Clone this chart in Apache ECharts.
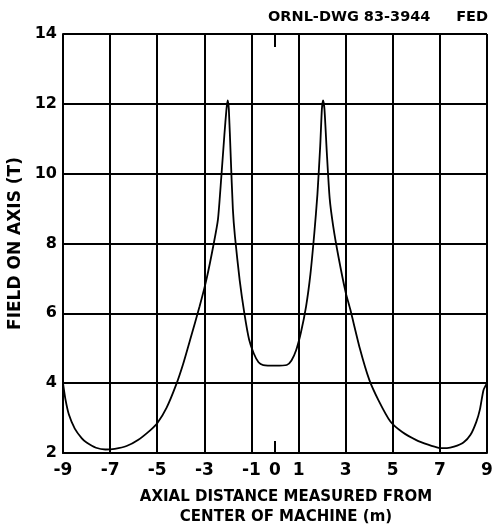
<!DOCTYPE html>
<html>
<head>
<meta charset="utf-8">
<script src="https://cdn.jsdelivr.net/npm/echarts@6/dist/echarts.min.js"></script>
<style>
html,body{margin:0;padding:0;background:#fff;}
#chart{width:495px;height:524px;}
</style>
</head>
<body>
<div id="chart"></div>
<script>
// Axial distance (m)
const axialDistance = [
  -9.0, -8.9, -8.75, -8.5, -8.2, -8.0, -7.6, -7.2, -6.8, -6.3, -5.8, -5.3, -5.0,
  -4.6, -4.2, -3.9, -3.6, -3.2, -2.9, -2.6, -2.42, -2.28, -2.15, -2.06, -2.01, -1.96,
  -1.88, -1.79, -1.7, -1.5, -1.3, -1.1, -0.9, -0.7, -0.5, 0.0, 0.5, 0.7, 0.9, 1.1,
  1.32, 1.5, 1.67, 1.8, 1.92, 1.99, 2.04, 2.1, 2.2, 2.32, 2.47, 2.7, 3.0, 3.2, 3.6,
  4.0, 4.4, 4.9, 5.4, 6.0, 6.5, 6.95, 7.3, 7.6, 8.0, 8.3, 8.55, 8.7, 8.85, 9.0
];
// Field on axis (T)
const fieldOnAxis = [
  4.0, 3.55, 3.1, 2.7, 2.42, 2.3, 2.15, 2.1, 2.12, 2.2, 2.38, 2.65, 2.85,
  3.3, 3.95, 4.55, 5.25, 6.2, 7.0, 8.0, 8.7, 9.9, 11.1, 11.85, 12.1, 11.85,
  10.5, 9.0, 8.2, 6.95, 6.0, 5.25, 4.85, 4.6, 4.52, 4.5, 4.52, 4.65, 4.95, 5.45,
  6.2, 7.1, 8.3, 9.4, 10.8, 11.85, 12.1, 11.85, 10.6, 9.3, 8.5, 7.6, 6.6, 6.1, 5.0,
  4.1, 3.5, 2.9, 2.6, 2.37, 2.24, 2.15, 2.14, 2.18, 2.3, 2.52, 2.9, 3.25, 3.8, 4.0
];
const yTicks = [2, 4, 6, 8, 10, 12, 14];
const centerMark = [0];

const FONT = 'DejaVu Sans';
const chart = echarts.init(document.getElementById('chart'), null, {renderer: 'canvas'});

const points = axialDistance.map((x, i) => [x, fieldOnAxis[i]]);

const blackLine = {color: '#000', width: 2};
const tickFont = {fontFamily: FONT, fontWeight: 'bold', fontSize: 17, color: '#000'};

chart.setOption({
  backgroundColor: '#fff',
  animation: false,
  title: [
    {text: 'ORNL-DWG 83-3944', left: 268, top: 10, padding: 0,
     textStyle: {fontFamily: FONT, fontWeight: 'bold', fontSize: 14.5, color: '#000'}},
    {text: 'FED', right: 7, top: 10, padding: 0,
     textStyle: {fontFamily: FONT, fontWeight: 'bold', fontSize: 14.5, color: '#000'}}
  ],
  grid: {left: 63, right: 8, top: 34, bottom: 71, containLabel: false, outerBoundsMode: 'none'},
  xAxis: [
    {
      type: 'value', position: 'bottom', min: -9, max: 9, interval: 2,
      name: 'AXIAL DISTANCE MEASURED FROM\nCENTER OF MACHINE (m)',
      nameLocation: 'middle', nameGap: 34,
      nameTextStyle: {fontFamily: FONT, fontWeight: 'bold', fontSize: 15, color: '#000',
                      lineHeight: 20, padding: [0, 0, 0, 22]},
      axisLine: {show: true, onZero: false, lineStyle: blackLine},
      axisTick: {show: false},
      splitLine: {show: true, lineStyle: blackLine},
      axisLabel: Object.assign({margin: 9}, tickFont)
    },
    {
      type: 'value', position: 'bottom', min: -9, max: 9,
      axisLine: {show: false, onZero: false}, splitLine: {show: false},
      axisLabel: Object.assign({customValues: centerMark, margin: 9}, tickFont),
      axisTick: {show: true, customValues: centerMark, inside: true, length: 12, lineStyle: blackLine}
    },
    {
      type: 'value', position: 'top', min: -9, max: 9,
      axisLine: {show: false, onZero: false}, axisLabel: {show: false}, splitLine: {show: false},
      axisTick: {show: true, customValues: centerMark, inside: true, length: 13, lineStyle: blackLine}
    }
  ],
  yAxis: {
    type: 'value', min: yTicks[0], max: yTicks[yTicks.length - 1], interval: 2,
    name: 'FIELD ON AXIS (T)', nameLocation: 'middle', nameGap: 31,
    nameTextStyle: {fontFamily: FONT, fontWeight: 'bold', fontSize: 17, color: '#000'},
    axisLine: {show: true, onZero: false, lineStyle: blackLine},
    axisTick: {show: false},
    splitLine: {show: true, lineStyle: blackLine},
    axisLabel: {margin: 6, fontFamily: FONT, fontWeight: 'bold', fontSize: 16, color: '#000'}
  },
  series: [{
    type: 'line', xAxisIndex: 0, yAxisIndex: 0,
    data: points, symbol: 'none', smooth: 0.2,
    lineStyle: {color: '#000', width: 1.8}
  }]
});
</script>
</body>
</html>
